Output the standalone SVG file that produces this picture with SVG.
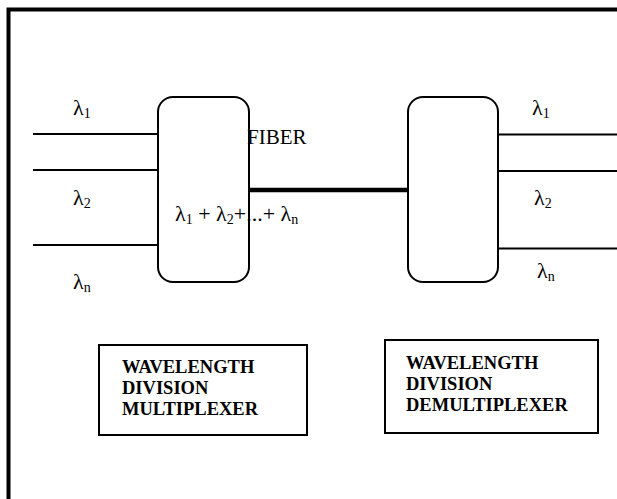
<svg xmlns="http://www.w3.org/2000/svg" width="617" height="499" viewBox="0 0 617 499">
<style>
.t{font-family:"Liberation Serif","Times New Roman",serif;fill:#000}
.lam{font-size:22px}
.sub{font-size:14px}
.bold{font-size:18.5px;font-weight:bold}
.ln{stroke:#000;stroke-width:2;fill:none}
.box{stroke:#000;stroke-width:2;fill:#fff}
</style>
<rect width="617" height="499" fill="#fff"/>
<g id="frame">
<path d="M8.5,499 V9.5 H617" fill="none" stroke="#000" stroke-width="4"/>
</g>
<g id="connectors">
<line class="ln" x1="33" y1="134" x2="158" y2="134"/>
<line class="ln" x1="33" y1="170" x2="158" y2="170"/>
<line class="ln" x1="33" y1="245" x2="158" y2="245"/>
<line x1="249" y1="190" x2="409" y2="190" stroke="#000" stroke-width="4.5"/>
<line class="ln" x1="498" y1="134.5" x2="617" y2="134.5"/>
<line class="ln" x1="498" y1="171" x2="617" y2="171"/>
<line class="ln" x1="498" y1="248.5" x2="617" y2="248.5"/>
</g>
<g id="mux">
<rect class="box" x="158" y="97" width="91" height="185" rx="15"/>
<text class="t lam" x="175" y="221">λ<tspan class="sub" dy="3">1</tspan><tspan dy="-3"> + λ</tspan><tspan class="sub" dy="3">2</tspan><tspan dy="-3">+...+ λ</tspan><tspan class="sub" dy="3">n</tspan></text>
</g>
<g id="demux">
<rect class="box" x="408" y="97" width="90" height="185" rx="15"/>
</g>
<g id="fiber-label">
<text class="t" x="247" y="144" font-size="21">FIBER</text>
</g>
<g id="in-labels">
<text class="t lam" x="73" y="115">λ<tspan class="sub" dy="3">1</tspan></text>
<text class="t lam" x="73" y="205">λ<tspan class="sub" dy="3">2</tspan></text>
<text class="t lam" x="73" y="289">λ<tspan class="sub" dy="3">n</tspan></text>
</g>
<g id="out-labels">
<text class="t lam" x="532" y="115">λ<tspan class="sub" dy="3">1</tspan></text>
<text class="t lam" x="534" y="205">λ<tspan class="sub" dy="3">2</tspan></text>
<text class="t lam" x="537" y="278">λ<tspan class="sub" dy="3">n</tspan></text>
</g>
<g id="mux-caption">
<rect class="box" x="99" y="345" width="208" height="90"/>
<text class="t bold" x="122" y="373">WAVELENGTH</text>
<text class="t bold" x="122" y="394">DIVISION</text>
<text class="t bold" x="122" y="415">MULTIPLEXER</text>
</g>
<g id="demux-caption">
<rect class="box" x="385" y="340" width="213" height="93"/>
<text class="t bold" x="406" y="369">WAVELENGTH</text>
<text class="t bold" x="406" y="390">DIVISION</text>
<text class="t bold" x="406" y="411">DEMULTIPLEXER</text>
</g>
</svg>
